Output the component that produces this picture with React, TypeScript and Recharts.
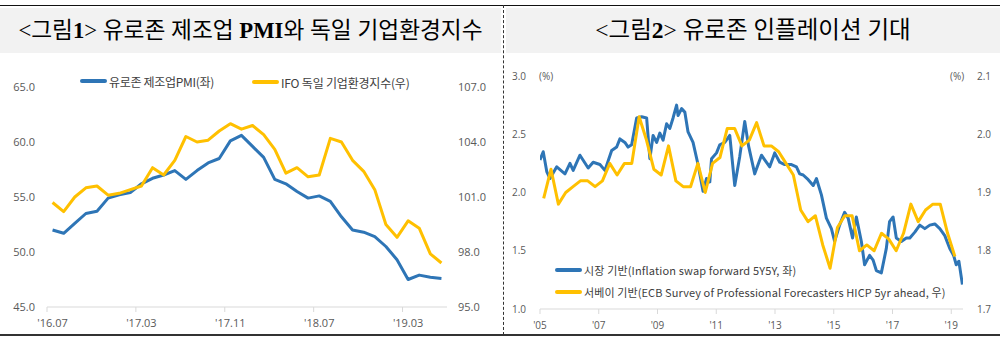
import { LineChart, Line, XAxis, YAxis } from 'recharts';

// <그림1> 유로존 제조업 PMI / IFO 독일 기업환경지수 (월별, '16.07 ~ '19.06)
const pmiMonths = [
  "'16.07", "'16.08", "'16.09", "'16.10", "'16.11", "'16.12",
  "'17.01", "'17.02", "'17.03", "'17.04", "'17.05", "'17.06",
  "'17.07", "'17.08", "'17.09", "'17.10", "'17.11", "'17.12",
  "'18.01", "'18.02", "'18.03", "'18.04", "'18.05", "'18.06",
  "'18.07", "'18.08", "'18.09", "'18.10", "'18.11", "'18.12",
  "'19.01", "'19.02", "'19.03", "'19.04", "'19.05", "'19.06",
];
const pmiValues = [
  52.0, 51.7, 52.6, 53.5, 53.7, 54.9, 55.2, 55.4, 56.2, 56.7, 57.0, 57.4,
  56.6, 57.4, 58.1, 58.5, 60.1, 60.6, 59.6, 58.6, 56.6, 56.2, 55.5, 54.9,
  55.1, 54.6, 53.2, 52.0, 51.8, 51.4, 50.5, 49.3, 47.5, 47.9, 47.7, 47.6,
];
const ifoValues = [
  100.7, 100.2, 101.0, 101.5, 101.6, 101.1, 101.2, 101.4, 101.6, 102.6, 102.2, 103.0,
  104.3, 104.0, 104.1, 104.6, 105.0, 104.7, 104.9, 104.4, 103.6, 102.3, 102.6, 102.1,
  102.2, 104.2, 104.0, 103.0, 102.4, 101.4, 99.5, 98.8, 99.7, 99.3, 97.9, 97.4,
];
const pmiTickLabels = ["'16.07", "'17.03", "'17.11", "'18.07", "'19.03"];
const pmiTicks = [45, 50, 55, 60, 65];
const ifoTicks = [95, 98, 101, 104, 107];

// <그림2> 유로존 인플레이션 기대
const swapDates = [
  2005.0, 2005.11, 2005.23, 2005.34, 2005.57, 2005.85, 2006.02, 2006.13, 2006.36, 2006.64,
  2006.81, 2007.04, 2007.21, 2007.44, 2007.61, 2007.72, 2007.89, 2008.0, 2008.12, 2008.29,
  2008.46, 2008.63, 2008.74, 2008.85, 2008.97, 2009.08, 2009.19, 2009.31, 2009.42, 2009.53,
  2009.65, 2009.7, 2009.82, 2009.93, 2010.04, 2010.21, 2010.38, 2010.55, 2010.67, 2010.78,
  2010.84, 2011.01, 2011.12, 2011.29, 2011.46, 2011.63, 2011.8, 2011.97, 2012.1, 2012.31,
  2012.54, 2012.65, 2012.82, 2012.99, 2013.16, 2013.33, 2013.56, 2013.73, 2013.84, 2013.96,
  2014.13, 2014.3, 2014.41, 2014.58, 2014.75, 2014.92, 2015.03, 2015.2, 2015.37, 2015.49,
  2015.64, 2015.77, 2015.94, 2016.05, 2016.22, 2016.34, 2016.45, 2016.62, 2016.79, 2016.9,
  2017.02, 2017.13, 2017.3, 2017.47, 2017.59, 2017.76, 2017.93, 2018.1, 2018.27, 2018.44,
  2018.61, 2018.78, 2018.95, 2019.08, 2019.17, 2019.26, 2019.38,
];
const swapValues = [
  2.28, 2.35, 2.18, 2.12, 2.22, 2.16, 2.25, 2.19, 2.32, 2.21,
  2.26, 2.24, 2.19, 2.36, 2.39, 2.46, 2.43, 2.39, 2.41, 2.64,
  2.65, 2.64, 2.29, 2.49, 2.43, 2.51, 2.45, 2.59, 2.55, 2.64,
  2.75, 2.66, 2.72, 2.69, 2.52, 2.43, 2.24, 2.01, 2.12, 2.09,
  2.29, 2.34, 2.41, 2.43, 2.49, 2.06, 2.31, 2.61, 2.4, 2.16,
  2.32, 2.28, 2.22, 2.34, 2.26, 2.24, 2.24, 2.22, 2.16, 2.15,
  2.11, 2.06, 2.12, 1.98, 1.78, 1.69, 1.58, 1.72, 1.83, 1.78,
  1.61, 1.79, 1.58, 1.38, 1.46, 1.42, 1.33, 1.31, 1.52, 1.75,
  1.79, 1.61, 1.58, 1.61, 1.61, 1.66, 1.72, 1.69, 1.72, 1.73,
  1.69, 1.63, 1.52, 1.46, 1.38, 1.41, 1.21,
];
const spfQuarters = [
  '2005Q1', '2005Q2', '2005Q3', '2005Q4', '2006Q1', '2006Q2', '2006Q3', '2006Q4',
  '2007Q1', '2007Q2', '2007Q3', '2007Q4', '2008Q1', '2008Q2', '2008Q3', '2008Q4',
  '2009Q1', '2009Q2', '2009Q3', '2009Q4', '2010Q1', '2010Q2', '2010Q3', '2010Q4',
  '2011Q1', '2011Q2', '2011Q3', '2011Q4', '2012Q1', '2012Q2', '2012Q3', '2012Q4',
  '2013Q1', '2013Q2', '2013Q3', '2013Q4', '2014Q1', '2014Q2', '2014Q3', '2014Q4',
  '2015Q1', '2015Q2', '2015Q3', '2015Q4', '2016Q1', '2016Q2', '2016Q3', '2016Q4',
  '2017Q1', '2017Q2', '2017Q3', '2017Q4', '2018Q1', '2018Q2', '2018Q3', '2018Q4',
  '2019Q1',
];
const spfValues = [
  1.89, 1.94, 1.88, 1.90, 1.91, 1.92, 1.92, 1.91,
  1.92, 1.95, 1.93, 1.95, 1.95, 2.03, 1.99, 1.94,
  1.93, 1.98, 1.92, 1.91, 1.91, 1.95, 1.90, 1.95,
  1.96, 2.01, 2.01, 1.98, 1.99, 2.02, 1.98, 1.98,
  1.97, 1.95, 1.93, 1.87, 1.85, 1.86, 1.81, 1.77,
  1.84, 1.86, 1.86, 1.80, 1.81, 1.80, 1.83, 1.82,
  1.80, 1.83, 1.88, 1.85, 1.87, 1.88, 1.88, 1.83,
  1.79,
];
const yearTicks = [2005, 2007, 2009, 2011, 2013, 2015, 2017, 2019];
const swapTicks = [1.0, 1.5, 2.0, 2.5, 3.0];
const spfTicks = [1.7, 1.8, 1.9, 2.0, 2.1];

const BLUE = '#2E75B6';
const GOLD = '#FFC000';
const AXIS = '#d9d9d9';
const LABEL = '#595959';
const SANS = '"Open Sans", "Noto Sans CJK KR", sans-serif';
const KR = '"Noto Sans CJK KR", "Open Sans", sans-serif';
const SERIF = '"Liberation Serif", "DejaVu Serif", "Noto Sans CJK KR", serif';

const LEFT_PLOT_W = 400;

const pmiData = pmiMonths.map((m, i) => ({ pos: i + 0.5, month: m, pmi: pmiValues[i], ifo: ifoValues[i] }));
const swapData = swapDates.map((t, i) => ({ t, v: swapValues[i] }));
const spfData = spfQuarters.map((q, i) => {
  const year = Number(q.slice(0, 4));
  const qtr = Number(q.slice(5));
  return { t: year + (qtr - 1) * 0.25 + 0.125, v: spfValues[i] };
});

function MonthTick(props: any) {
  const { x, y, payload } = props;
  const half = LEFT_PLOT_W / pmiMonths.length / 2;
  return (
    <g>
      <line x1={x - half} x2={x - half} y1={y} y2={y + 5} stroke={AXIS} />
      <text x={x} y={y + 20} textAnchor="middle" fontSize={11} fill={LABEL} fontFamily={SANS}>
        {pmiMonths[Math.floor(payload.value)]}
      </text>
    </g>
  );
}

function LegendItem({ left, top, color, text, size, spacing }: any) {
  return (
    <div style={{ position: 'absolute', left, top, height: 16, display: 'flex', alignItems: 'center' }}>
      <div style={{ width: 27, height: 3.5, borderRadius: 2, background: color, marginRight: 2 }} />
      <span style={{ fontFamily: KR, fontSize: size, color: '#404040', letterSpacing: spacing, whiteSpace: 'nowrap' }}>
        {text}
      </span>
    </div>
  );
}

function LeftChart() {
  return (
    <LineChart width={500} height={339} data={pmiData} margin={{ top: 87, right: 0, bottom: 0, left: 0 }}>
      <XAxis
        type="number"
        dataKey="pos"
        domain={[0, pmiMonths.length]}
        ticks={pmiTickLabels.map((m) => pmiMonths.indexOf(m) + 0.5)}
        height={32}
        stroke={AXIS}
        tickLine={false}
        tickSize={0}
        tickMargin={0}
        tick={<MonthTick />}
        interval={0}
      />
      <YAxis
        yAxisId="pmi"
        domain={[45, 65]}
        ticks={pmiTicks}
        width={47}
        axisLine={false}
        tickLine={false}
        tickMargin={6}
        tickFormatter={(v: number) => v.toFixed(1)}
        tick={{ fontSize: 11, fill: LABEL, fontFamily: SANS }}
      />
      <YAxis
        yAxisId="ifo"
        orientation="right"
        domain={[95, 107]}
        ticks={ifoTicks}
        width={53}
        axisLine={false}
        tickLine={false}
        tickMargin={5}
        tickFormatter={(v: number) => v.toFixed(1)}
        tick={{ fontSize: 11, fill: LABEL, fontFamily: SANS }}
      />
      <Line yAxisId="pmi" dataKey="pmi" stroke={BLUE} strokeWidth={3} dot={false} isAnimationActive={false} strokeLinejoin="round" />
      <Line yAxisId="ifo" dataKey="ifo" stroke={GOLD} strokeWidth={3} dot={false} isAnimationActive={false} strokeLinejoin="round" />
    </LineChart>
  );
}

function RightChart() {
  return (
    <LineChart width={495} height={339} margin={{ top: 76, right: 0, bottom: 0, left: 0 }}>
      <XAxis
        type="number"
        dataKey="t"
        domain={[2005, 2019.4]}
        allowDataOverflow
        ticks={yearTicks}
        interval={0}
        height={30}
        stroke={AXIS}
        tickSize={5}
        tickMargin={8}
        tickFormatter={(v: number) => "'" + String(v).slice(2)}
        tick={{ fontSize: 10, fill: LABEL, fontFamily: SANS }}
      />
      <YAxis
        yAxisId="swap"
        domain={[1, 3]}
        ticks={swapTicks}
        width={35}
        axisLine={false}
        tickLine={false}
        tickMargin={8}
        tickFormatter={(v: number) => v.toFixed(1)}
        tick={{ fontSize: 10, fill: LABEL, fontFamily: SANS }}
      />
      <YAxis
        yAxisId="spf"
        orientation="right"
        domain={[1.7, 2.1]}
        ticks={spfTicks}
        width={37}
        axisLine={false}
        tickLine={false}
        tickMargin={8}
        tickFormatter={(v: number) => v.toFixed(1)}
        tick={{ fontSize: 10, fill: LABEL, fontFamily: SANS }}
      />
      <Line yAxisId="swap" data={swapData} dataKey="v" stroke={BLUE} strokeWidth={3} dot={false} isAnimationActive={false} strokeLinejoin="round" />
      <Line yAxisId="spf" data={spfData} dataKey="v" stroke={GOLD} strokeWidth={3} dot={false} isAnimationActive={false} strokeLinejoin="round" />
    </LineChart>
  );
}

const titleStyle: any = {
  position: 'absolute',
  top: 8,
  height: 45,
  lineHeight: '45px',
  background: '#f2f2f2',
  textAlign: 'center',
  fontFamily: SERIF,
  color: '#000',
  whiteSpace: 'nowrap',
};

export default function App() {
  return (
    <div style={{ position: 'absolute', left: 0, top: 0, width: 1000, height: 339, background: '#fff', overflow: 'hidden' }}>
      <div style={{ position: 'absolute', left: 0, top: 4.5, width: 1000, height: 1.5, background: '#111' }} />
      <div style={{ ...titleStyle, left: 0, width: 501, fontSize: 22.7 }}>
        {'<그림'}<b>1</b>{'> 유로존 제조업 '}<b>PMI</b>{'와 독일 기업환경지수'}
      </div>
      <div style={{ ...titleStyle, left: 506, width: 494, fontSize: 23.5 }}>
        {'<그림'}<b>2</b>{'> 유로존 인플레이션 기대'}
      </div>
      <div style={{ position: 'absolute', left: 503, top: 5, height: 330, borderLeft: '1px dashed #333' }} />
      <div style={{ position: 'absolute', left: 0, top: 334, width: 1000, height: 2, background: '#333' }} />

      <div style={{ position: 'absolute', left: 0, top: 0 }}>
        <LeftChart />
      </div>
      <LegendItem left={80} top={73} color={BLUE} text="유로존 제조업PMI(좌)" size={12} spacing={-0.3} />
      <LegendItem left={252} top={74} color={GOLD} text="IFO 독일 기업환경지수(우)" size={12} spacing={-0.2} />

      <div style={{ position: 'absolute', left: 505, top: 0 }}>
        <RightChart />
      </div>
      <div style={{ position: 'absolute', left: 539, top: 69, fontFamily: SANS, fontSize: 10, color: LABEL }}>(%)</div>
      <div style={{ position: 'absolute', left: 950, top: 69, fontFamily: SANS, fontSize: 10, color: LABEL }}>(%)</div>
      <LegendItem left={555} top={262} color={BLUE} text="시장 기반(Inflation swap forward 5Y5Y, 좌)" size={11} spacing={0.15} />
      <LegendItem left={555} top={284} color={GOLD} text="서베이 기반(ECB Survey of Professional Forecasters HICP 5yr ahead, 우)" size={11} spacing={0.1} />
    </div>
  );
}
